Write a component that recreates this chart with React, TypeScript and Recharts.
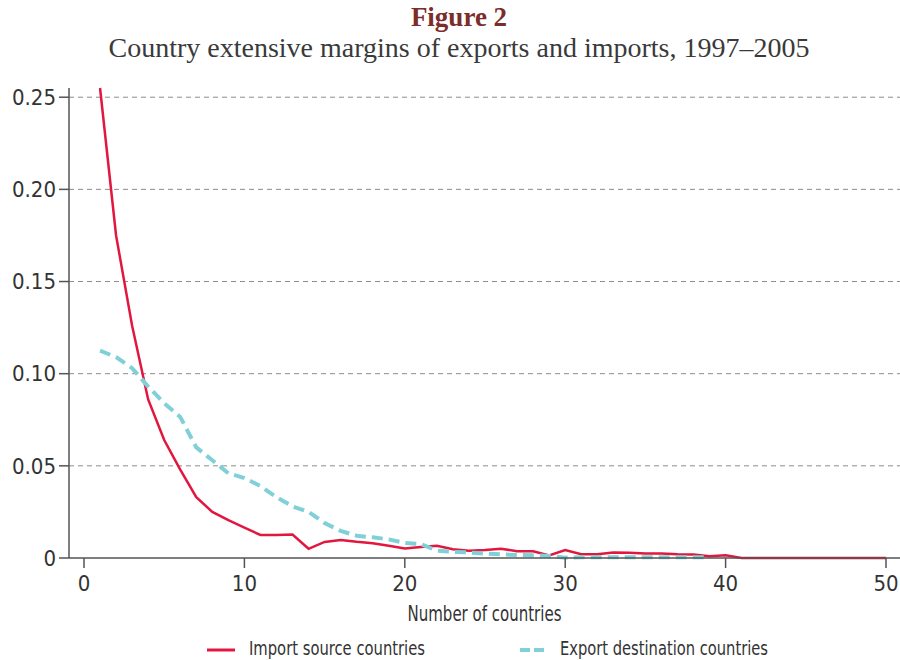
import React from "react"
import {
  LineChart,
  Line,
  XAxis,
  YAxis,
  ReferenceLine,
  Label,
} from "recharts"

// number of countries (x)
const countries = [
  1, 2, 3, 4, 5, 6, 7, 8, 9, 10,
  11, 12, 13, 14, 15, 16, 17, 18, 19, 20,
  21, 22, 23, 24, 25, 26, 27, 28, 29, 30,
  31, 32, 33, 34, 35, 36, 37, 38, 39, 40,
  41, 42, 43, 44, 45, 46, 47, 48, 49, 50,
]

// share of firms, import source countries
const importShares = [
  0.255, 0.175, 0.126, 0.086, 0.064, 0.048, 0.033, 0.025, 0.0205, 0.0165,
  0.0125, 0.0125, 0.0127, 0.005, 0.0087, 0.0098, 0.0088, 0.008, 0.0066, 0.0052,
  0.006, 0.0066, 0.0048, 0.004, 0.0043, 0.005, 0.0037, 0.0037, 0.0014, 0.0043,
  0.002, 0.002, 0.003, 0.0028, 0.0025, 0.0024, 0.002, 0.0019, 0.001, 0.0015,
  0, 0, 0, 0, 0, 0, 0, 0, 0, 0,
]

// share of firms, export destination countries (none beyond 39)
const exportShares: (number | null)[] = [
  0.1125, 0.109, 0.103, 0.093, 0.084, 0.0765, 0.06, 0.053, 0.046, 0.0434,
  0.039, 0.033, 0.028, 0.025, 0.019, 0.0147, 0.0121, 0.0112, 0.0101, 0.0082,
  0.0076, 0.004, 0.0033, 0.003, 0.0024, 0.002, 0.0016, 0.0015, 0.0011, 0.0002,
  0.0004, 0.0004, 0.0004, 0.0004, 0.0004, 0.0004, 0.0004, 0.0004, 0.0004, null,
  null, null, null, null, null, null, null, null, null, null,
]

const xTicks = [0, 10, 20, 30, 40, 50]
const yTicks = [0, 0.05, 0.1, 0.15, 0.2, 0.25]

const data = countries.map((n, i) => ({
  n,
  imports: importShares[i],
  exports: exportShares[i],
}))

const RED = "#e2173f"
const CYAN = "#80d0d8"
const AXIS = "#555555"
const SANS = "'Liberation Sans Narrow', 'DejaVu Sans Condensed', 'Roboto', sans-serif"
const SERIF = "'Liberation Serif', 'DejaVu Serif', serif"

const formatY = (v: number) => (v === 0 ? "0" : v.toFixed(2))

export default function App() {
  return (
    <div
      style={{
        position: "absolute",
        left: 0,
        top: 0,
        width: 900,
        height: 660,
        background: "#fff",
        overflow: "hidden",
      }}
    >
      <div
        style={{
          position: "absolute",
          left: 0,
          top: 2,
          width: 918,
          textAlign: "center",
          fontFamily: SERIF,
          fontWeight: 700,
          fontSize: 27,
          lineHeight: "30px",
          color: "#7b2d2a",
        }}
      >
        Figure 2
      </div>
      <div
        style={{
          position: "absolute",
          left: 0,
          top: 32,
          width: 918,
          textAlign: "center",
          fontFamily: SERIF,
          fontSize: 28,
          lineHeight: "32px",
          color: "#3a3a3a",
        }}
      >
        Country extensive margins of exports and imports, 1997–2005
      </div>

      <div style={{ position: "absolute", left: 0, top: 0 }}>
        <LineChart
          width={900}
          height={660}
          data={data}
          margin={{ top: 88, right: 0, left: 8, bottom: 42 }}
        >
          {/* dashed gridlines at the y ticks (the zero line is the axis) */}
          {yTicks
            .filter((t) => t > 0)
            .map((t) => (
              <ReferenceLine
                key={t}
                y={t}
                stroke="#8c8c8c"
                strokeDasharray="5 4"
              />
            ))}
          <XAxis
            dataKey="n"
            type="number"
            domain={[0, 50]}
            ticks={xTicks}
            padding={{ left: 15, right: 14 }}
            height={60}
            tickSize={10}
            tickMargin={7}
            stroke={AXIS}
            strokeWidth={1.5}
            tick={{ fontSize: 22, fill: "#333", fontFamily: SANS }}
          >
            <Label
              content={({ viewBox }: any) => (
                <text
                  x={viewBox.x + viewBox.width / 2}
                  y={621}
                  textAnchor="middle"
                  fontSize={21}
                  fill="#333"
                  fontFamily={SANS}
                  textLength={154}
                  lengthAdjust="spacingAndGlyphs"
                >
                  Number of countries
                </text>
              )}
            />
          </XAxis>
          <YAxis
            type="number"
            domain={[0, 0.255]}
            ticks={yTicks}
            width={61}
            tickSize={10}
            tickMargin={3}
            stroke={AXIS}
            strokeWidth={1.5}
            tickFormatter={formatY}
            tick={{ fontSize: 22, fill: "#333", fontFamily: SANS }}
          />
          <Line
            type="linear"
            dataKey="imports"
            stroke={RED}
            strokeWidth={2.5}
            dot={false}
            isAnimationActive={false}
          />
          <Line
            type="linear"
            dataKey="exports"
            stroke={CYAN}
            strokeWidth={4}
            strokeDasharray="11 6"
            dot={false}
            connectNulls={false}
            isAnimationActive={false}
          />
        </LineChart>
      </div>

      {/* legend */}
      <svg
        width={900}
        height={30}
        style={{ position: "absolute", left: 0, top: 630 }}
        fontFamily={SANS}
        fontSize={20}
      >
        <line x1={207} y1={20} x2={235} y2={20} stroke={RED} strokeWidth={3} />
        <text
          x={249}
          y={25}
          fill="#333"
          textLength={176}
          lengthAdjust="spacingAndGlyphs"
        >
          Import source countries
        </text>
        <line
          x1={520}
          y1={20}
          x2={544}
          y2={20}
          stroke={CYAN}
          strokeWidth={4}
          strokeDasharray="10 4"
        />
        <text
          x={560}
          y={25}
          fill="#333"
          textLength={208}
          lengthAdjust="spacingAndGlyphs"
        >
          Export destination countries
        </text>
      </svg>
    </div>
  )
}
